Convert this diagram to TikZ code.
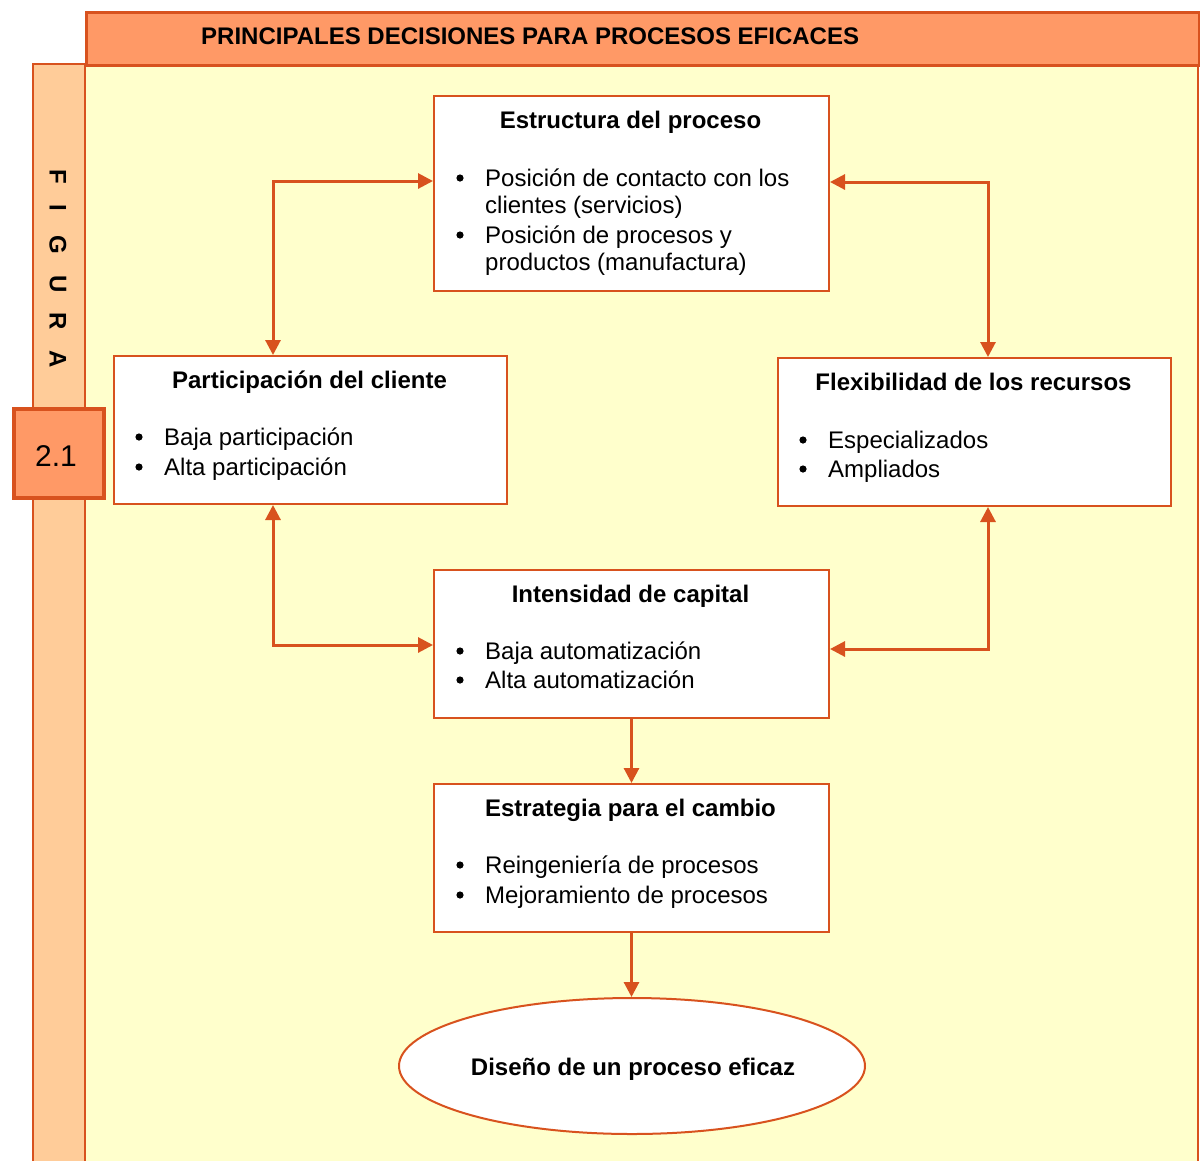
\documentclass[tikz,border=0pt]{standalone}
\usepackage{fontspec}
\setmainfont{Liberation Sans}
\usetikzlibrary{arrows.meta,shapes.geometric}
\definecolor{edge}{HTML}{D8521E}
\definecolor{headfill}{HTML}{FF9966}
\definecolor{stripfill}{HTML}{FFCC99}
\definecolor{panel}{HTML}{FFFFCC}
\tikzset{
  box/.style={draw=edge, line width=2pt, fill=white, inner sep=0pt, anchor=north west},
  ttl/.style={font=\fontsize{24}{27}\selectfont\bfseries, anchor=base, inner sep=0pt},
  txt/.style={font=\fontsize{24}{27}\selectfont, anchor=base west, inner sep=0pt},
  vlet/.style={font=\fontsize{24}{27}\selectfont\bfseries, rotate=-90, inner sep=0pt},
  conn/.style={draw=edge, line width=3pt, arrows={-Triangle[length=15pt,width=15pt]}},
  dconn/.style={draw=edge, line width=3pt, arrows={Triangle[length=15pt,width=15pt]-Triangle[length=15pt,width=15pt]}}
}
% bullet dot at the start of an item, #1 = x, #2 = baseline
\newcommand\itemdot[2]{\fill (#1,#2-8) circle (3.6pt);}
\begin{document}
\begin{tikzpicture}[x=1pt,y=-1pt]
\useasboundingbox (0,0) rectangle (1200,1160);
\fill[white] (0,0) rectangle (1200,1160);

% main panel, side strip and header band
\draw[edge, line width=1.5pt, fill=panel] (85,64) rectangle (1198,1175);
\draw[edge, line width=1.5pt, fill=stripfill] (33,64) rectangle (85,1175);
\node[draw=edge, line width=3pt, fill=headfill, minimum width=1113pt, minimum height=53pt,
      inner sep=0pt, anchor=north west] (head) at (85,11) {};
\node[txt, font=\fontsize{24}{27}\selectfont\bfseries] (headtext) at (201,44)
  {PRINCIPALES DECISIONES PARA PROCESOS EFICACES};

% vertical label in the strip
\node[vlet] (l1) at (58,177) {F};
\node[vlet] (l2) at (58,208) {I};
\node[vlet] (l3) at (58,245) {G};
\node[vlet] (l4) at (58,284) {U};
\node[vlet] (l5) at (58,321) {R};
\node[vlet] (l6) at (58,359) {A};

% figure number
\node[draw=edge, line width=3.5pt, fill=headfill, minimum width=90pt, minimum height=89pt,
      inner sep=0pt, anchor=north west] (num) at (12,407) {};
\node[inner sep=0pt, anchor=base, font=\fontsize{30}{32}\selectfont] (numtext) at (56,466) {2.1};

% Estructura del proceso
\node[box, minimum width=395pt, minimum height=195pt] (estr) at (433,95) {};
\node[ttl] (estrT) at (630.5,128) {Estructura del proceso};
\itemdot{460}{186}
\node[txt] (estr1) at (485,186) {Posición de contacto con los};
\node[txt] (estr2) at (485,213) {clientes (servicios)};
\itemdot{460}{243}
\node[txt] (estr3) at (485,243) {Posición de procesos y};
\node[txt] (estr4) at (485,270) {productos (manufactura)};

% Participación del cliente
\node[box, minimum width=393pt, minimum height=148pt] (part) at (113,355) {};
\node[ttl] (partT) at (309.5,388) {Participación del cliente};
\itemdot{139}{445}
\node[txt] (part1) at (164,445) {Baja participación};
\itemdot{139}{475}
\node[txt] (part2) at (164,475) {Alta participación};

% Flexibilidad de los recursos
\node[box, minimum width=393pt, minimum height=148pt] (flex) at (777,357) {};
\node[ttl] (flexT) at (973.5,390) {Flexibilidad de los recursos};
\itemdot{803}{448}
\node[txt] (flex1) at (828,448) {Especializados};
\itemdot{803}{477}
\node[txt] (flex2) at (828,477) {Ampliados};

% Intensidad de capital
\node[box, minimum width=395pt, minimum height=148pt] (inten) at (433,569) {};
\node[ttl] (intenT) at (630.5,602) {Intensidad de capital};
\itemdot{460}{659}
\node[txt] (inten1) at (485,659) {Baja automatización};
\itemdot{460}{688}
\node[txt] (inten2) at (485,688) {Alta automatización};

% Estrategia para el cambio
\node[box, minimum width=395pt, minimum height=148pt] (estrat) at (433,783) {};
\node[ttl] (estratT) at (630.5,816) {Estrategia para el cambio};
\itemdot{460}{873}
\node[txt] (estrat1) at (485,873) {Reingeniería de procesos};
\itemdot{460}{903}
\node[txt] (estrat2) at (485,903) {Mejoramiento de procesos};

% outcome
\node[ellipse, draw=edge, line width=2pt, fill=white, minimum width=466pt, minimum height=136pt,
      inner sep=0pt] (goal) at (632,1066) {};
\node[ttl] (goalT) at (633,1075) {Diseño de un proceso eficaz};

% connectors
\coordinate (jl) at (273,181);
\coordinate (jr) at (988,182);
\coordinate (jbl) at (273,645);
\coordinate (jbr) at (988,649);
\draw[dconn] (estr.west |- jl) -- (jl) -- (part.north -| jl);
\draw[dconn] (estr.east |- jr) -- (jr) -- (flex.north -| jr);
\draw[dconn] (part.south -| jbl) -- (jbl) -- (inten.west |- jbl);
\draw[dconn] (flex.south -| jbr) -- (jbr) -- (inten.east |- jbr);
\draw[conn] (inten.south) -- (estrat.north);
\draw[conn] (estrat.south) -- (estrat.south |- goal.north);
\end{tikzpicture}
\end{document}
